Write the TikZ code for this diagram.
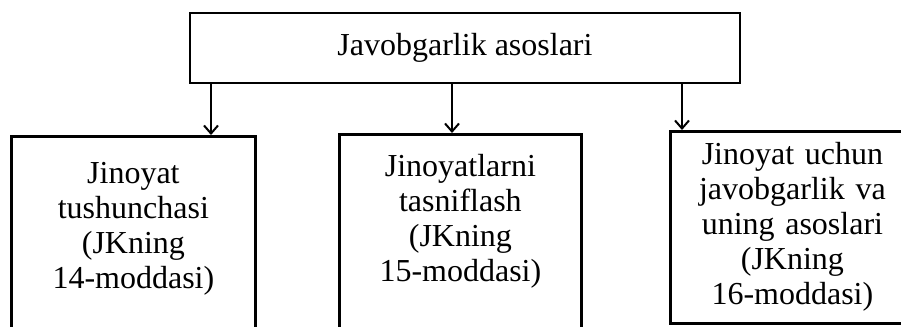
\documentclass[tikz,border=0pt]{standalone}
\usepackage{fontspec}
\setmainfont{Liberation Serif}
\usetikzlibrary{arrows.meta}
\newcommand{\bigtxt}{\fontsize{16}{17.5}\selectfont}

\begin{document}
\begin{tikzpicture}[x=0.5pt,y=-0.5pt]
    \tikzset{box/.style={draw,line width=1.4pt,font=\bigtxt},
      part/.style={box,anchor=north west,inner sep=0pt,text width=122pt,align=center},
      arr/.style={line width=1pt,-{Straight Barb[length=4pt,width=7pt]}}}
\useasboundingbox (0,0) rectangle (901,327);
\clip (0,0) rectangle (901,327);
\node[box,minimum width=275pt,minimum height=35pt](JA) at (465,48) {Javobgarlik asoslari};
\node[part,text height=23.5pt,text depth=80pt](JT) at (10,135)
  {Jinoyat\\tushunchasi\\(JKning\\14-moddasi)};
\node[part,text width=121pt,text height=21pt,text depth=76pt](JTs) at (338,133)
  {Jinoyatlarni\\tasniflash\\(JKning\\15-moddasi)};
\node[part,text height=16.5pt,text depth=79.5pt](JU) at (669,130)
  {Jinoyat uchun\\javobgarlik va\\uning asoslari\\(JKning\\16-moddasi)};
\coordinate (a1) at (211,0);
\coordinate (a2) at (452,0);
\coordinate (a3) at (682,0);
 \draw[arr] (JA.south -| a1) -- (JT.north -| a1);
 \draw[arr] (JA.south -| a2) -- (JTs.north -| a2);
 \draw[arr] (JA.south -| a3) -- (JU.north -| a3);
\end{tikzpicture}
\end{document}
